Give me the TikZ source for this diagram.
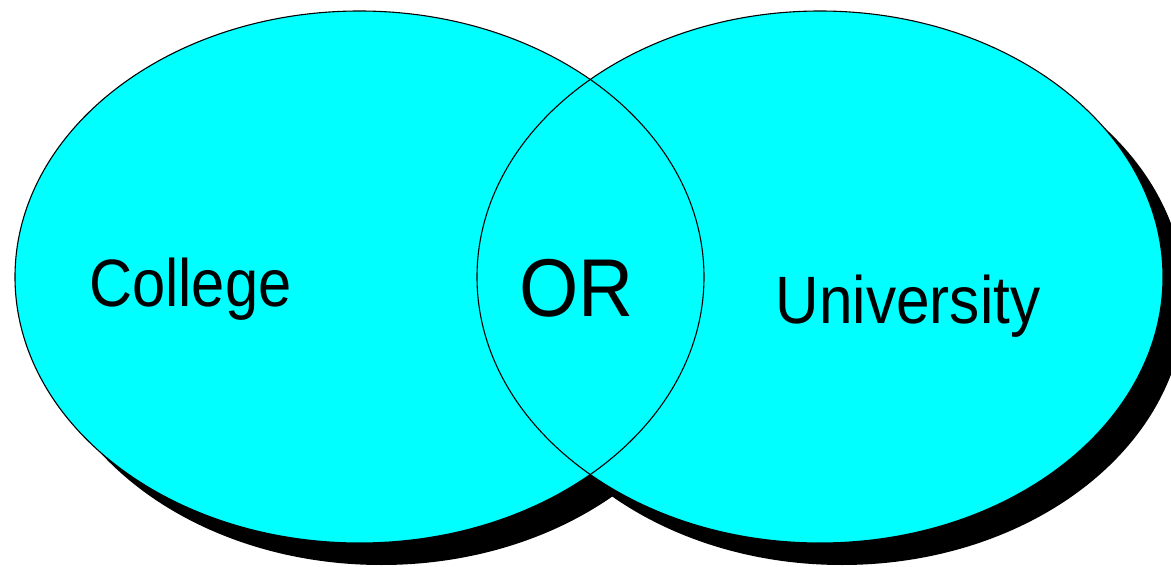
\documentclass[tikz,border=0pt]{standalone}
\usepackage{fontspec}
\setmainfont{Liberation Sans}
\definecolor{venncyan}{RGB}{0,255,255}
\tikzset{
  shadowfill/.style={fill=black},
  setfill/.style={fill=venncyan},
  setline/.style={draw=black, line width=1.1pt},
  lbl/.style={inner sep=0pt, anchor=base, text=black}
}
\begin{document}
\begin{tikzpicture}[x=1pt, y=-1pt]
\useasboundingbox (0,0) rectangle (1171,567);
\coordinate (Lc) at (359.5,277);
\coordinate (Rc) at (820,277);
% shadows
\path[shadowfill] ([shift={(22,22)}]Lc) ellipse [x radius=344.5pt, y radius=266pt];
\path[shadowfill] ([shift={(22,22)}]Rc) ellipse [x radius=343pt, y radius=266pt];
% fills
\path[setfill] (Lc) ellipse [x radius=344.5pt, y radius=266pt];
\path[setfill] (Rc) ellipse [x radius=343pt, y radius=266pt];
% outlines
\path[setline] (Lc) ellipse [x radius=344.5pt, y radius=266pt];
\path[setline] (Rc) ellipse [x radius=343pt, y radius=266pt];
% labels
\node[lbl] (college) at (190.4,306.7) {\scalebox{0.89}[1]{\fontsize{67}{67}\selectfont College}};
\node[lbl] (or) at (576.7,316.7) {\scalebox{0.93}[1]{\fontsize{82}{82}\selectfont OR}};
\node[lbl] (univ) at (908,323.3) {\scalebox{0.90}[1]{\fontsize{67}{67}\selectfont University}};
\end{tikzpicture}
\end{document}
